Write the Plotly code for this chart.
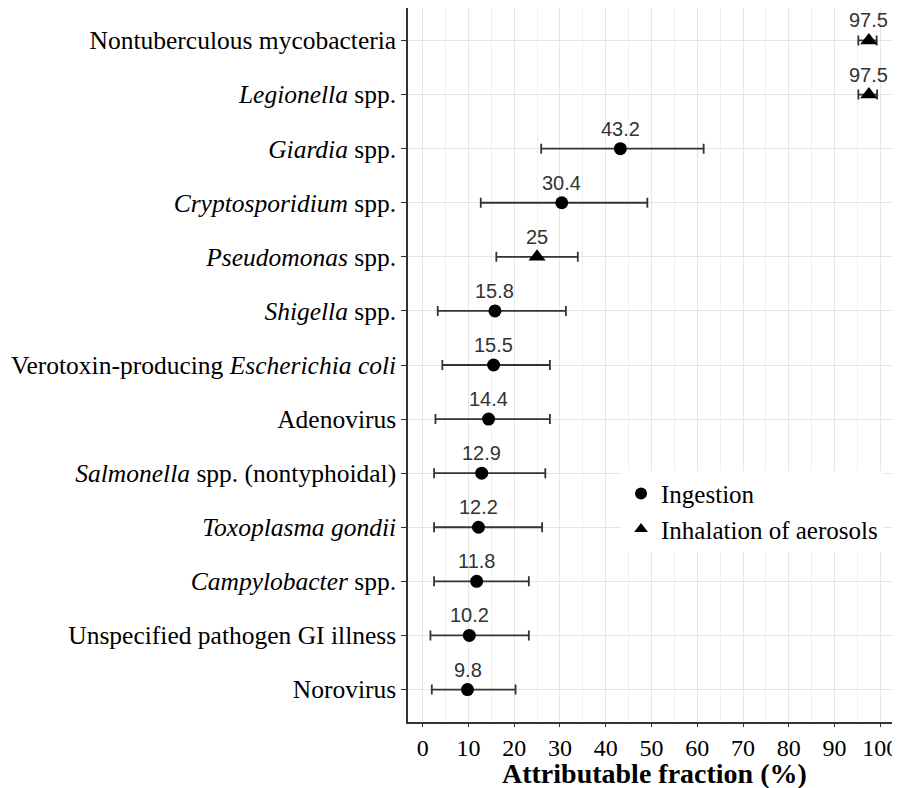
import plotly.graph_objects as go

pathogens = [
    "Nontuberculous mycobacteria",
    "<i>Legionella</i> spp.",
    "<i>Giardia</i> spp.",
    "<i>Cryptosporidium</i> spp.",
    "<i>Pseudomonas</i> spp.",
    "<i>Shigella</i> spp.",
    "Verotoxin-producing <i>Escherichia coli</i>",
    "Adenovirus",
    "<i>Salmonella</i> spp. (nontyphoidal)",
    "<i>Toxoplasma gondii</i>",
    "<i>Campylobacter</i> spp.",
    "Unspecified pathogen GI illness",
    "Norovirus",
]
estimate = [97.5, 97.5, 43.2, 30.4, 25, 15.8, 15.5, 14.4, 12.9, 12.2, 11.8, 10.2, 9.8]
lower = [95.2, 95.2, 25.9, 12.7, 16.1, 3.3, 4.3, 2.8, 2.5, 2.5, 2.5, 1.7, 2.0]
upper = [99.2, 99.3, 61.4, 49.1, 33.9, 31.3, 27.8, 27.8, 26.8, 26.1, 23.2, 23.2, 20.3]
route = ["Inhalation of aerosols", "Inhalation of aerosols", "Ingestion", "Ingestion",
         "Inhalation of aerosols", "Ingestion", "Ingestion", "Ingestion", "Ingestion",
         "Ingestion", "Ingestion", "Ingestion", "Ingestion"]
labels = ["97.5", "97.5", "43.2", "30.4", "25", "15.8", "15.5", "14.4", "12.9",
          "12.2", "11.8", "10.2", "9.8"]
x_ticks = list(range(0, 101, 10))
x_title = "Attributable fraction (%)"

n = len(pathogens)
ypos = [n - i for i in range(n)]

SERIF = "Liberation Serif, Times New Roman, serif"

fig = go.Figure()
for rname, sym in [("Ingestion", "circle"), ("Inhalation of aerosols", "triangle-up")]:
    idx = [i for i in range(n) if route[i] == rname]
    fig.add_trace(go.Scatter(
        x=[estimate[i] for i in idx],
        y=[ypos[i] for i in idx],
        mode="markers",
        name=rname,
        marker=dict(symbol=sym, size=13 if sym == "circle" else 15, color="black"),
        error_x=dict(type="data", symmetric=False,
                     array=[upper[i] - estimate[i] for i in idx],
                     arrayminus=[estimate[i] - lower[i] for i in idx],
                     color="#333333", thickness=1.8, width=5),
    ))

for i in range(n):
    fig.add_annotation(x=estimate[i], y=ypos[i], text=labels[i], showarrow=False,
                       yshift=20, font=dict(family="Liberation Sans, Arial", size=20, color="#333333"))

fig.add_annotation(x=0.5, y=0, xref="paper", yref="paper", xanchor="center", yanchor="top",
                   yshift=-34, showarrow=False, text="<b>" + x_title + "</b>",
                   font=dict(family=SERIF, size=28, color="black"))

# the page body adds an 8px offset, so the figure is 8px smaller than the window
fig.update_layout(
    width=892, height=780,
    margin=dict(l=400, r=0, t=0, b=66),
    paper_bgcolor="white", plot_bgcolor="white",
    font=dict(family=SERIF, color="black"),
    legend=dict(x=0.433, y=0.352, xanchor="left", yanchor="top", bgcolor="white",
                font=dict(family=SERIF, size=25, color="black"),
                itemsizing="constant", tracegroupgap=0),
    showlegend=True,
)
fig.update_xaxes(
    range=[-3.2, 104.3], tickvals=x_ticks, ticktext=[str(v) for v in x_ticks],
    automargin=False,
    showgrid=True, gridcolor="#e5e5e5", gridwidth=1.2,
    minor=dict(dtick=5, showgrid=True, gridcolor="#f0f0f0", gridwidth=0.8, tick0=0),
    ticks="outside", ticklen=3, tickcolor="#333333", tickwidth=1.2,
    tickfont=dict(family=SERIF, size=24, color="black"),
    showline=True, linecolor="#333333", linewidth=1.5, mirror=True, zeroline=False,
)
fig.update_yaxes(
    range=[0.4, n + 0.6], tickvals=ypos, ticktext=pathogens,
    automargin=False,
    showgrid=True, gridcolor="#e5e5e5", gridwidth=1.2,
    ticks="outside", ticklen=5, tickcolor="#333333", tickwidth=1.2,
    tickfont=dict(family=SERIF, size=25.5, color="black"),
    showline=True, linecolor="#333333", linewidth=1.5, mirror=True, zeroline=False,
)

fig.write_html("out.html")
